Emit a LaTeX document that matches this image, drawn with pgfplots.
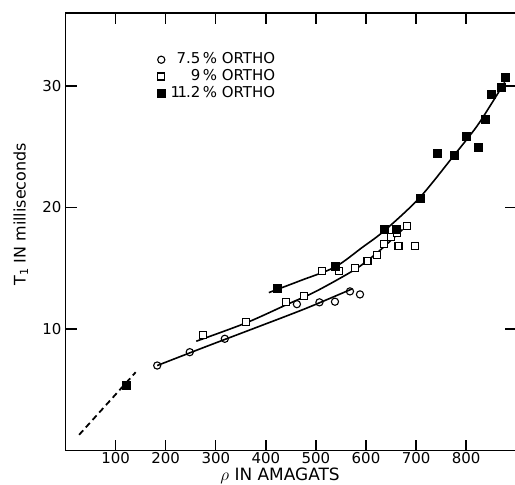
\documentclass[border=0pt]{standalone}
\usepackage{pgfplots}
\pgfplotsset{compat=1.18}
\usepackage{fontspec}
\setmainfont{DejaVu Sans}
\usetikzlibrary{calc}

\pgfplotstableread{
x y
183 7.0
248 8.1
318 9.2
462 12.05
507 12.2
538 12.25
568 13.1
588 12.85
}\circdata

\pgfplotstableread{
x y
275 9.5
360 10.55
441 12.2
476 12.75
512 14.8
546 14.8
578 15.0
603 15.6
622 16.1
636 17.0
650 17.6
662 17.9
682 18.5
665 16.8
697 16.8
}\sqdata

\pgfplotstableread{
x y
121 5.4
422 13.4
538 15.15
637 18.25
661 18.2
708 20.75
742 24.5
777 24.3
801 25.9
824 24.95
838 27.3
851 29.3
870 29.9
879 30.75
}\filldata

\begin{document}
\begin{tikzpicture}
\begin{axis}[
  scale only axis,
  width=450bp, height=437bp,
  xmin=0, xmax=900, ymin=0, ymax=36,
  xtick={100,200,300,400,500,600,700,800},
  ytick={10,20,30},
  tick align=inside,
  major tick length=11bp,
  tick style={line width=1.3bp, black},
  axis line style={line width=1.3bp},
  /pgf/number format/assume math mode=true,
  ticklabel style={font=\fontsize{15}{15}\selectfont},
  xticklabel style={inner sep=1.5bp},
  yticklabel style={inner sep=4bp},
  xlabel={$\rho$ IN AMAGATS},
  ylabel={T\textsubscript{1} IN milliseconds},
  label style={font=\fontsize{16}{16}\selectfont},
  xlabel style={font=\fontsize{17}{17}\selectfont, at={(axis description cs:0.476,0)}, anchor=base, yshift=-29.5bp},
  ylabel style={at={(axis description cs:-0.0889,0.54)}, anchor=base},
  legend style={at={(axis description cs:0.203,0.912)}, anchor=north west,
    draw=none, fill=none, inner sep=0pt, row sep=0.7bp,
    font=\fontsize{15}{15}\selectfont,
    nodes={text height=11bp, text depth=3bp, inner sep=1bp}},
  legend cell align=left,
]
% fitted curves
\addplot[black, line width=1.6bp, smooth, forget plot] coordinates {
 (183,7.0) (280,8.55) (379,10.1) (480,11.7) (572,13.3)};
\addplot[black, line width=1.6bp, smooth, forget plot] coordinates {
 (261,9.0) (360,10.5) (441,12.0) (500,13.1) (578,14.9) (620,16.2) (650,17.3) (673,18.2)};
\addplot[black, line width=1.6bp, smooth, forget plot] coordinates {
 (406,13.0) (470,14.0) (538,15.1) (592,16.7) (637,18.1) (707,20.8) (776,24.3) (820,26.6) (850,28.5) (877,30.3)};
\addplot[black, line width=1.8bp, dash pattern=on 6bp off 4bp, forget plot] coordinates {
 (27,1.3) (140,6.45)};
% data
\addplot[only marks, mark=o, mark size=3.6bp, line width=1.1bp, black, mark options={fill=white}]
  table {\circdata};
\addlegendentry{\makebox[34bp][r]{7.5}\,\% ORTHO}
\addplot[only marks, mark=square*, mark size=3.5bp, line width=1.1bp, black, mark options={fill=white}]
  table {\sqdata};
\addlegendentry{\makebox[34bp][r]{9}\,\% ORTHO}
\addplot[only marks, mark=square*, mark size=4bp, black]
  table {\filldata};
\addlegendentry{\makebox[34bp][r]{1\kern-2.5bp1\kern-1bp.2}\,\% ORTHO}
\end{axis}
\pgfresetboundingbox
\path[use as bounding box] ($(current axis.south west)+(-65.5bp,-34bp)$) rectangle ($(current axis.north east)+(-1.2bp,13bp)$);
\end{tikzpicture}
\end{document}
